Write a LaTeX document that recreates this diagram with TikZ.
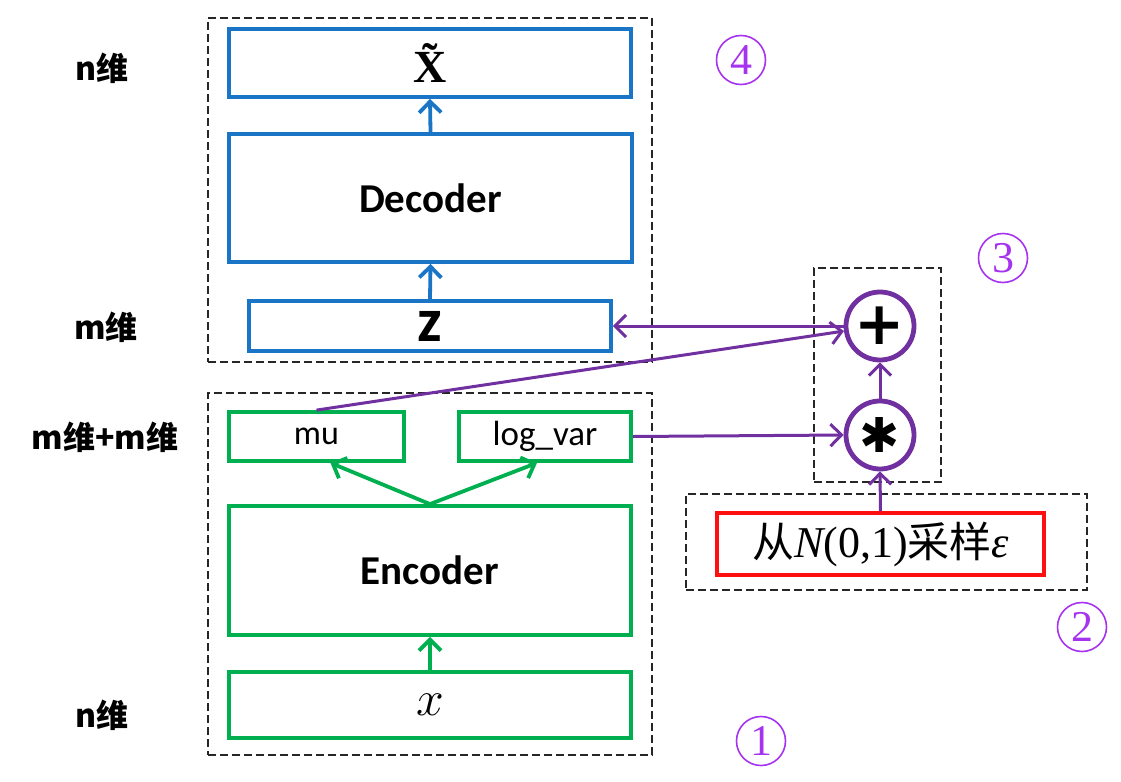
\documentclass[tikz,border=0pt]{standalone}
\usepackage{fontspec}
\usetikzlibrary{arrows.meta}
\newfontfamily\carl{Carlito}
\newfontfamily\cjk{Noto Sans CJK SC}
\newfontfamily\tnr{Liberation Serif}
\newfontfamily\djv{DejaVu Sans}
\definecolor{myblue}{HTML}{1A75C6}
\definecolor{mygreen}{HTML}{00B050}
\definecolor{mypurple}{HTML}{7030A0}
\definecolor{myred}{HTML}{FF1010}
\definecolor{numviolet}{HTML}{A633F0}
\newcommand{\fsz}[1]{\fontsize{#1}{#1}\selectfont}
\begin{document}
\begin{tikzpicture}[x=0.5pt,y=-0.5pt,
  box/.style={rectangle,inner sep=0pt,line width=1.9pt,minimum width=#1},
  bbox/.style={box=#1,draw=myblue},
  gbox/.style={box=#1,draw=mygreen},
  rbox/.style={box=#1,draw=myred},
  dbox/.style={rectangle,inner sep=0pt,draw=black!85,line width=1.3pt,dash pattern=on 4pt off 2pt,minimum width=#1},
  barb/.style={-{Straight Barb[length=5.5pt,width=11pt]}},
  barr/.style={draw=myblue,line width=1.9pt,barb},
  garr/.style={draw=mygreen,line width=1.9pt,barb},
  parr/.style={draw=mypurple,line width=1.5pt,barb},
  opnode/.style={circle,draw=mypurple,line width=2.4pt,minimum size=34pt,inner sep=0pt,fill=white},
  num/.style={circle,draw=numviolet,line width=0.8pt,minimum size=24.5pt,inner sep=0pt,text=numviolet,font=\tnr\fsz{22}},
  dimlab/.style={font=\cjk\bfseries\fsz{16}}
]
\useasboundingbox (0,0) rectangle (1121,782);

% dashed groups
\node[dbox=222pt,minimum height=172pt] (g4) at (430,190) {};
\node[dbox=222pt,minimum height=181pt] (g1) at (430,574) {};
\node[dbox=63.5pt,minimum height=107pt] (g3) at (877.5,375) {};
\node[dbox=200.5pt,minimum height=48pt] (g2) at (886.5,542) {};

% decoder side
\node[bbox=201pt,minimum height=34pt,font=\tnr\bfseries\fsz{23}] (xt) at (430,63) {\~{X}};
\node[bbox=201.5pt,minimum height=64pt,font=\carl\bfseries\fsz{20.5}] (dec) at (430.5,198) {Decoder};
\node[bbox=181pt,minimum height=25pt,font=\carl\bfseries\fsz{31}] (z) at (430,326) {z};

% encoder side
\node[gbox=87.5pt,minimum height=24.5pt,font=\carl\fsz{17}] (mu) at (316.5,436.5) {mu};
\node[gbox=86pt,minimum height=24.5pt,font=\carl\fsz{17.5}] (lv) at (545,436.5) {log\_var};
\node[gbox=201pt,minimum height=64.5pt,font=\carl\bfseries\fsz{20.5}] (enc) at (430,570.5) {Encoder};
\node[gbox=201pt,minimum height=33pt,font=\fsz{36}] (xin) at (430,705) {$x$};

% sampling
\node[rbox=163.5pt,minimum height=31pt] (eps) at (880.5,544) {{\cjk\fsz{21}从}{\tnr\itshape\fsz{22}N}{\tnr\fsz{22}(0,1)}{\cjk\fsz{21}采样}{\tnr\itshape\fsz{22}ε}};
\node[opnode,font=\djv\fsz{24}] (mul) at (880,435) {✱};
\node[opnode,font=\djv\bfseries\fsz{30}] (add) at (880,326) {+};

% arrows
\draw[barr] (dec.north) -- (xt.south);
\draw[barr] (z.north) -- (dec.south);
\draw[garr] (xin.north) -- (enc.south);
\draw[garr] (enc.north) -- ([xshift=7pt]mu.south);
\draw[garr] (enc.north) -- ([xshift=-4pt]lv.south);
\draw[parr] (add.west) -- (z.east);
\draw[parr] (mu.north) -- (add.188);
\draw[parr] (lv.east) -- (mul.west);
\draw[parr] (eps.north) -- (mul.south);
\draw[parr] (mul.north) -- (add.south);

% dimension labels
\node[dimlab] (l1) at (102,68) {n维};
\node[dimlab] (l2) at (106,327) {m维};
\node[dimlab] (l3) at (105,437) {m维+m维};
\node[dimlab] (l4) at (102,715) {n维};

% step numbers
\node[num] (n1) at (761,741) {1};
\node[num] (n2) at (1082,627) {2};
\node[num] (n3) at (1003,258) {3};
\node[num] (n4) at (741,60) {4};
\end{tikzpicture}
\end{document}
